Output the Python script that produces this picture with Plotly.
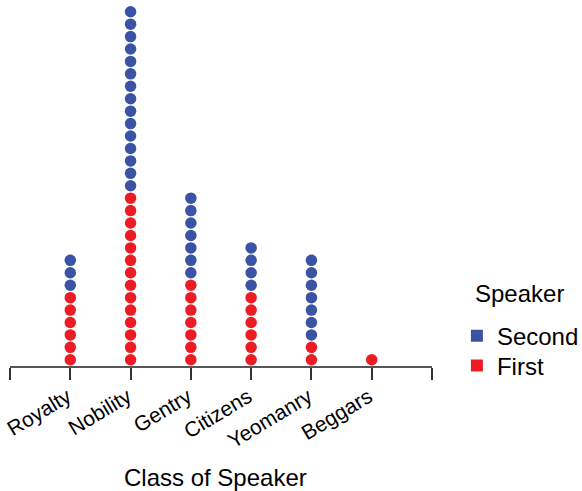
import plotly.graph_objects as go

categories = ["Royalty", "Nobility", "Gentry", "Citizens", "Yeomanry", "Beggars"]
first_counts = [6, 14, 7, 6, 2, 1]
second_counts = [3, 15, 7, 4, 7, 0]

RED = "#ED1C24"
BLUE = "#3A53A4"
FONT = "Liberation Sans, Arial, sans-serif"

fx, fy, sx, sy = [], [], [], []
for i, (f, s) in enumerate(zip(first_counts, second_counts)):
    pos = i + 1
    for k in range(f):
        fx.append(pos)
        fy.append(k + 0.5)
    for k in range(s):
        sx.append(pos)
        sy.append(f + k + 0.5)

fig = go.Figure()
fig.add_trace(go.Scatter(x=fx, y=fy, mode="markers", showlegend=False,
                         marker=dict(color=RED, size=11.5, line=dict(width=0))))
fig.add_trace(go.Scatter(x=sx, y=sy, mode="markers", showlegend=False,
                         marker=dict(color=BLUE, size=11.5, line=dict(width=0))))
# legend entries (square keys)
fig.add_trace(go.Scatter(x=[None], y=[None], mode="markers", name="Second", legend="legend",
                         marker=dict(color=BLUE, size=12, symbol="square")))
fig.add_trace(go.Scatter(x=[None], y=[None], mode="markers", name="First", legend="legend2",
                         marker=dict(color=RED, size=12, symbol="square")))

tickvals = list(range(len(categories) + 2))
ticktext = [""] + categories + [""]

leg_common = dict(x=1.059, xanchor="left", yanchor="middle", font=dict(size=24),
                  itemsizing="constant", bgcolor="rgba(0,0,0,0)")

fig.update_layout(
    width=582, height=491,
    margin=dict(l=10, r=150, t=5, b=125, autoexpand=False),
    plot_bgcolor="white", paper_bgcolor="white",
    font=dict(family=FONT, color="black"),
    xaxis=dict(range=[0, 7], tickvals=tickvals, ticktext=ticktext,
               tickangle=-31, tickfont=dict(size=21), ticks="outside",
               ticklen=12, tickcolor="#333333", tickwidth=1.5,
               ticklabelstandoff=-3, ticklabelshift=-3,
               showline=True, linecolor="#555555", linewidth=1.5,
               showgrid=False, zeroline=False, automargin=False),
    yaxis=dict(range=[0, 29.04], visible=False, showgrid=False, zeroline=False),
    legend=dict(y=0.083, **leg_common),
    legend2=dict(y=0.0, **leg_common),
    annotations=[
        dict(text="Class of Speaker", xref="paper", yref="paper",
             x=0.486, y=-0.31, xanchor="center", yanchor="middle",
             showarrow=False, font=dict(size=24)),
        dict(text="Speaker", xref="paper", yref="paper",
             x=1.2085, y=0.202, xanchor="center", yanchor="middle",
             showarrow=False, font=dict(size=24)),
    ],
)

fig.write_html("out.html", config={"displayModeBar": False},
               post_script="document.body.style.margin='0';document.body.style.overflow='hidden';")
